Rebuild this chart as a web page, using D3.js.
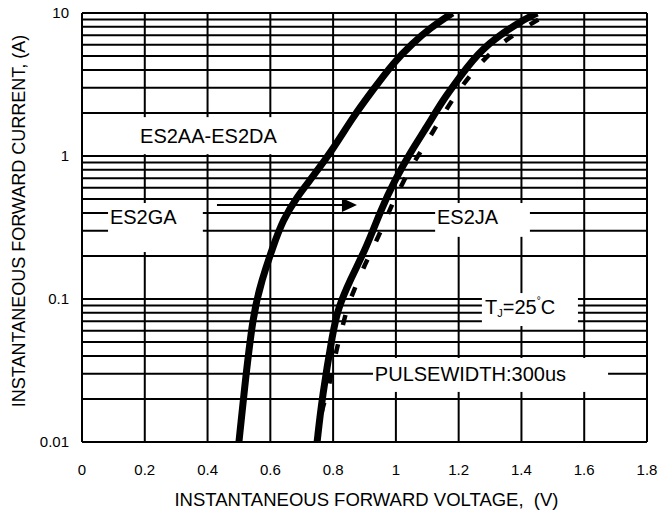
<!DOCTYPE html>
<html>
<head>
<meta charset="utf-8">
<script src="https://cdn.jsdelivr.net/npm/d3@7"></script>
<style>
  body { margin: 0; background: #fff; }
  text { font-family: Arial, "Liberation Sans", sans-serif; fill: #000; }
</style>
</head>
<body>
<div id="chart"></div>
<script>
// tick values
const xTicks = [0, 0.2, 0.4, 0.6, 0.8, 1, 1.2, 1.4, 1.6, 1.8];
const xTickLabels = ["0", "0.2", "0.4", "0.6", "0.8", "1", "1.2", "1.4", "1.6", "1.8"];
const yTicks = [0.01, 0.1, 1, 10];
const yTickLabels = ["0.01", "0.1", "1", "10"];

// ES2AA-ES2DA (left solid curve)
const aaVolts = [0.50, 0.50, 0.515, 0.545, 0.573, 0.608, 0.64, 0.685, 0.736, 0.80, 0.863, 0.927, 0.991, 1.054, 1.109, 1.18, 1.18];
const aaAmps  = [0.01, 0.01, 0.021, 0.08, 0.136, 0.231, 0.357, 0.52, 0.72, 1.12, 1.87, 2.9, 4.47, 6.16, 7.85, 10, 10];

// ES2GA (middle solid curve)
const gaVolts = [0.749, 0.749, 0.765, 0.80, 0.815, 0.854, 0.907, 0.952, 0.997, 1.045, 1.099, 1.15, 1.204, 1.27, 1.386, 1.45, 1.45];
const gaAmps  = [0.01, 0.01, 0.0206, 0.06, 0.085, 0.136, 0.231, 0.42, 0.68, 1.05, 1.6, 2.47, 3.57, 5.6, 8.5, 10, 10];

// ES2JA (dashed curve)
const jaVolts = [0.749, 0.749, 0.765, 0.78, 0.81, 0.822, 0.844, 0.863, 0.90, 0.943, 0.98, 1.007, 1.051, 1.083, 1.131, 1.179, 1.236, 1.30, 1.38, 1.49, 1.49];
const jaAmps  = [0.01, 0.01, 0.0176, 0.0206, 0.0439, 0.054, 0.0865, 0.11, 0.173, 0.267, 0.42, 0.56, 0.865, 1.10, 1.65, 2.47, 3.68, 5.3, 7.25, 10, 10];

const width = 660, height = 510;
const margin = {top: 13, right: 13, bottom: 68, left: 82};

const svg = d3.select("#chart").append("svg")
  .attr("width", width)
  .attr("height", height);

const x = d3.scaleLinear().domain([0, 1.8]).range([margin.left, width - margin.right]);
const y = d3.scaleLog().domain([0.01, 10]).range([height - margin.bottom, margin.top]);

// grid: every 1..9 per decade, plus each 0.2 V
const yGrid = [];
[0.01, 0.1, 1].forEach(d => { for (let m = 1; m < 10; m++) yGrid.push(+(m * d).toPrecision(3)); });
yGrid.push(10);

const grid = svg.append("g").attr("stroke", "#000").attr("stroke-width", 2);
grid.selectAll(".h").data(yGrid).enter().append("line")
  .attr("x1", x(0)).attr("x2", x(1.8))
  .attr("y1", d => y(d)).attr("y2", d => y(d));
grid.selectAll(".v").data(xTicks).enter().append("line")
  .attr("y1", y(0.01)).attr("y2", y(10))
  .attr("x1", d => x(d)).attr("x2", d => x(d));

// white label boxes that cut the grid (volts / amps)
const boxes = [
  {v0: 0.041, v1: 0.695, i0: 1.03, i1: 1.87},
  {v0: 0.083, v1: 0.385, i0: 0.213, i1: 0.469},
  {v0: 1.125, v1: 1.427, i0: 0.272, i1: 0.469},
  {v0: 1.274, v1: 1.580, i0: 0.0647, i1: 0.110},
  {v0: 0.927, v1: 1.676, i0: 0.0224, i1: 0.0387}
];
svg.append("g").selectAll("rect").data(boxes).enter().append("rect")
  .attr("x", d => x(d.v0)).attr("y", d => y(d.i1))
  .attr("width", d => x(d.v1) - x(d.v0))
  .attr("height", d => y(d.i0) - y(d.i1))
  .attr("fill", "#fff");

// labels
const labels = [
  {t: "ES2AA-ES2DA", v: 0.185, i: 1.23},
  {t: "ES2GA", v: 0.089, i: 0.334},
  {t: "ES2JA", v: 1.131, i: 0.334},
  {t: "PULSEWIDTH:300us", v: 0.933, i: 0.0267}
];
svg.append("g").selectAll("text").data(labels).enter().append("text")
  .attr("x", d => x(d.v)).attr("y", d => y(d.i))
  .style("font-size", "20px")
  .text(d => d.t);

const tj = svg.append("text")
  .attr("x", x(1.284)).attr("y", y(0.0785))
  .style("font-size", "20px");
tj.append("tspan").text("T");
tj.append("tspan").attr("dy", 3).style("font-size", "11px").text("J");
tj.append("tspan").attr("dy", -3).text("=25");
tj.append("tspan").attr("dy", -10).style("font-size", "10px").text("°");
tj.append("tspan").attr("dy", 10).text("C");

// curves (end points doubled so the basis spline reaches them)
const line = d3.line()
  .x(d => x(d[0])).y(d => y(d[1]))
  .curve(d3.curveBasis);

svg.append("clipPath").attr("id", "plot").append("rect")
  .attr("x", x(0)).attr("y", y(10))
  .attr("width", x(1.8) - x(0)).attr("height", y(0.01) - y(10));

const curves = svg.append("g").attr("clip-path", "url(#plot)").attr("fill", "none").attr("stroke", "#000");
curves.append("path")
  .attr("d", line(d3.zip(jaVolts, jaAmps)))
  .attr("stroke-width", 4.5)
  .attr("stroke-dasharray", "10,20");
curves.append("path")
  .attr("d", line(d3.zip(gaVolts, gaAmps)))
  .attr("stroke-width", 7);
curves.append("path")
  .attr("d", line(d3.zip(aaVolts, aaAmps)))
  .attr("stroke-width", 7);

// arrow from ES2GA label to its curve
const ay = y(0.454), ax0 = x(0.43), ax1 = x(0.876);
svg.append("line")
  .attr("x1", ax0).attr("x2", ax1 - 12)
  .attr("y1", ay).attr("y2", ay)
  .attr("stroke", "#000").attr("stroke-width", 2);
svg.append("path")
  .attr("d", `M${ax1},${ay} L${ax1 - 15},${ay - 7} L${ax1 - 15},${ay + 7} Z`)
  .attr("fill", "#000");

// tick labels
svg.append("g").selectAll("text").data(xTicks).enter().append("text")
  .attr("x", d => x(d)).attr("y", y(0.01) + 33)
  .attr("text-anchor", "middle")
  .style("font-size", "15px")
  .text((d, i) => xTickLabels[i]);

svg.append("g").selectAll("text").data(yTicks).enter().append("text")
  .attr("x", x(0) - 13).attr("y", d => y(d) + 5)
  .attr("text-anchor", "end")
  .style("font-size", "15px")
  .text((d, i) => yTickLabels[i]);

// axis titles
svg.append("text")
  .attr("x", (x(0) + x(1.8)) / 2 + 2).attr("y", 506)
  .attr("text-anchor", "middle")
  .style("font-size", "18.5px")
  .text("INSTANTANEOUS FORWARD VOLTAGE,\u00a0 (V)");

svg.append("text")
  .attr("transform", "translate(25,221) rotate(-90)")
  .attr("text-anchor", "middle")
  .style("font-size", "18px")
  .text("INSTANTANEOUS FORWARD CURRENT, (A)");
</script>
</body>
</html>
